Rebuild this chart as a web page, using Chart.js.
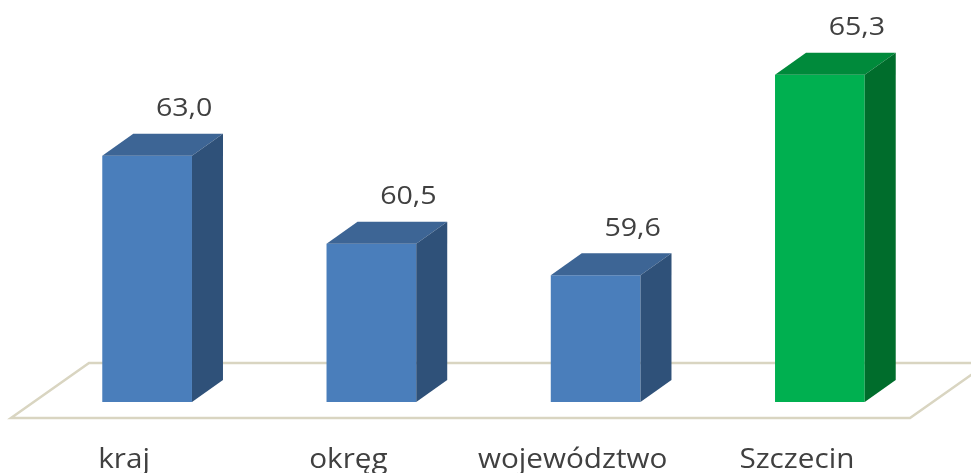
<!DOCTYPE html>
<html>
<head>
<meta charset="utf-8">
<script src="https://cdn.jsdelivr.net/npm/chart.js@4.4.1/dist/chart.umd.min.js"></script>
<style>
  html, body { margin: 0; padding: 0; background: #fff; }
  #wrap { width: 971px; height: 473px; }
</style>
</head>
<body>
<div id="wrap"><canvas id="turnoutChart" width="971" height="473"></canvas></div>
<script>
const categories = ['kraj', 'okręg', 'województwo', 'Szczecin'];
const turnout = [63.0, 60.5, 59.6, 65.3];
const frontColors = ['#4a7ebb', '#4a7ebb', '#4a7ebb', '#00b050'];
const topColors = ['#3d6595', '#3d6595', '#3d6595', '#008a3b'];
const sideColors = ['#2f5179', '#2f5179', '#2f5179', '#006d2c'];

// 3D look: depth offset of the bars
const DEPTH_X = 31, DEPTH_Y = -22;

// text in the original is a little wider than any installed font
function wideText(ctx, text, x, y, font) {
    ctx.save();
    ctx.font = font;
    ctx.translate(x, y);
    ctx.scale(1.1, 1);
    ctx.fillText(text, 0, 0);
    ctx.restore();
}

const floorPlugin = {
    id: 'floor',
    beforeDatasetsDraw(chart) {
        const { ctx, chartArea } = chart;
        const b = chartArea.bottom;
        ctx.save();
        ctx.strokeStyle = '#d9d5c1';
        ctx.lineWidth = 2.5;
        ctx.beginPath();
        ctx.moveTo(chartArea.left - 24, b + 16);
        ctx.lineTo(chartArea.right - 22, b + 16);
        ctx.lineTo(chartArea.right + 56, b - 39);
        ctx.lineTo(chartArea.left + 54, b - 39);
        ctx.closePath();
        ctx.stroke();
        ctx.restore();
    }
};

const box3dPlugin = {
    id: 'box3d',
    afterDatasetsDraw(chart) {
        const { ctx, chartArea } = chart;
        const meta = chart.getDatasetMeta(0);
        const btm = chartArea.bottom;
        ctx.save();
        meta.data.forEach((bar, i) => {
            const l = bar.x - bar.width / 2, r = bar.x + bar.width / 2;
            const t = bar.y;
            // top face
            ctx.fillStyle = topColors[i];
            ctx.beginPath();
            ctx.moveTo(l, t);
            ctx.lineTo(l + DEPTH_X, t + DEPTH_Y);
            ctx.lineTo(r + DEPTH_X, t + DEPTH_Y);
            ctx.lineTo(r, t);
            ctx.closePath();
            ctx.fill();
            // side face
            ctx.fillStyle = sideColors[i];
            ctx.beginPath();
            ctx.moveTo(r, t);
            ctx.lineTo(r + DEPTH_X, t + DEPTH_Y);
            ctx.lineTo(r + DEPTH_X, btm + DEPTH_Y);
            ctx.lineTo(r, btm);
            ctx.closePath();
            ctx.fill();

            ctx.fillStyle = '#404040';
            ctx.textAlign = 'center';
            ctx.textBaseline = 'middle';
            // value label
            wideText(ctx, turnout[i].toFixed(1).replace('.', ','),
                bar.x + 37, t + DEPTH_Y - 25, '26px "Open Sans", sans-serif');
            // category label, centred on the front edge of the floor
            wideText(ctx, categories[i], bar.x - 23, btm + 58, '27px "Open Sans", sans-serif');
        });
        ctx.restore();
    }
};

new Chart(document.getElementById('turnoutChart').getContext('2d'), {
    type: 'bar',
    data: {
        labels: categories,
        datasets: [{
            data: turnout,
            backgroundColor: frontColors,
            borderWidth: 0,
            barPercentage: 0.8,
            categoryPercentage: 0.5
        }]
    },
    options: {
        responsive: false,
        animation: false,
        layout: { padding: { left: 35, right: 39, top: 15, bottom: 71 } },
        plugins: { legend: { display: false }, tooltip: { enabled: false } },
        scales: {
            x: { display: false },
            y: { display: false, min: 56, max: 67 }
        }
    },
    plugins: [floorPlugin, box3dPlugin]
});
</script>
</body>
</html>
